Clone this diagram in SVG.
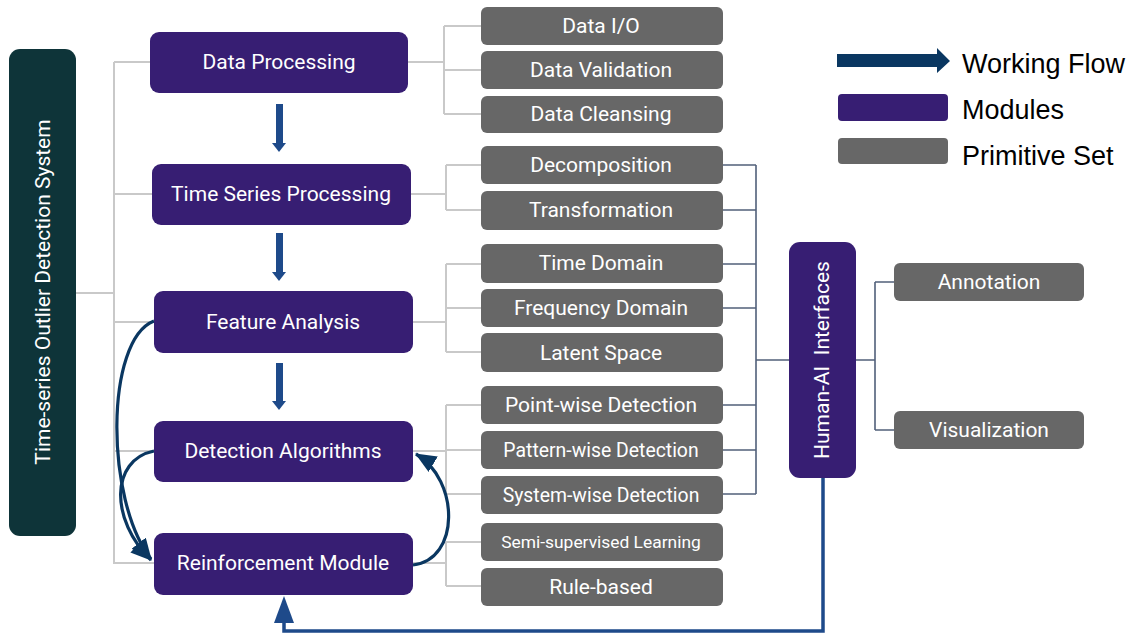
<svg xmlns="http://www.w3.org/2000/svg" width="1135" height="633" viewBox="0 0 1135 633">
  <style>
    .module { fill: #371e73; }
    .prim { fill: #676767; }
    .root { fill: #0e3439; }
    .t { font-family: Roboto, "Liberation Sans", sans-serif; font-weight: 400; fill: #ffffff; text-anchor: middle; dominant-baseline: central; }
    .tm { font-size: 21px; }
    .tp { font-size: 21px; }
    .legend { font-family: "Liberation Sans", Arial, sans-serif; font-size: 27px; fill: #000000; }
    .tree { fill: none; stroke: #c9c9c9; stroke-width: 2; }
    .link { fill: none; stroke: #51607a; stroke-width: 1.6; }
    .flow { fill: #1e4a8a; }
    .loop { fill: none; stroke: #0a3761; stroke-width: 3.2; marker-end: url(#head); }
  </style>
  <defs>
    <marker id="head" markerUnits="userSpaceOnUse" markerWidth="24" markerHeight="20" refX="20" refY="9" orient="auto">
      <path d="M0,0 L21,9 L0,18 Z" fill="#0a3761"/>
    </marker>
  </defs>

  <rect width="1135" height="633" fill="#ffffff"/>

  <!-- connectors -->
  <g id="connectors">
    <!-- system to modules -->
    <path class="tree" d="M76,293 H114 M114,62 V564 M114,62 H150 M114,194 H152 M114,322 H154 M114,451 H154 M114,563 H154"/>
    <!-- modules to primitive sets -->
    <path class="tree" d="M408,62 H444 M444,26 V114 M444,26 H481 M444,70 H481 M444,114 H481"/>
    <path class="tree" d="M411,194 H446 M446,165 V210 M446,165 H481 M446,210 H481"/>
    <path class="tree" d="M413,322 H446 M446,264 V352 M446,264 H481 M446,308 H481 M446,352 H481"/>
    <path class="tree" d="M413,451 H446 M446,405 V494 M446,405 H481 M446,450 H481 M446,494 H481"/>
    <path class="tree" d="M413,563 H446 M446,542 V586 M446,542 H481 M446,586 H481"/>
    <!-- primitive sets to Human-AI interfaces -->
    <path class="link" d="M723,165 H756 M723,210 H756 M723,264 H756 M723,308 H756 M723,405 H756 M723,450 H756 M723,494 H756 M756,165 V494 M756,360 H789"/>
    <path class="link" d="M856,360 H875 M875,282 V430 M875,282 H894 M875,430 H894"/>

    <!-- working flow arrows -->
    <rect class="flow" x="276" y="104" width="7" height="40"/>
    <polygon class="flow" points="272,143 286,143 279,152"/>
    <rect class="flow" x="276" y="233" width="7" height="40"/>
    <polygon class="flow" points="272,272 286,272 279,281"/>
    <rect class="flow" x="276" y="363" width="7" height="39"/>
    <polygon class="flow" points="272,401 286,401 279,410"/>

    <!-- feedback loops -->
    <path class="loop" d="M154,321 C105,340 105,500 151,559"/>
    <path class="loop" d="M154,451 C110,460 110,520 151,560"/>
    <path class="loop" d="M413,565 C460,560 460,480 416,454"/>

    <!-- human feedback to reinforcement -->
    <path d="M823,478 V631 H284 V620" fill="none" stroke="#1e4a8a" stroke-width="3.5"/>
    <polygon points="274,623 294,623 284,596" fill="#1e4a8a"/>
  </g>

  <!-- root -->
  <g id="system">
    <rect class="root" x="9" y="49" width="67" height="487" rx="11"/>
    <text class="t" font-size="21" transform="translate(43,292) rotate(-90)">Time-series Outlier Detection System</text>
  </g>

  <!-- modules -->
  <g id="data-processing">
    <rect class="module" x="150" y="32" width="258" height="61" rx="9"/>
    <text class="t tm" x="279" y="62">Data Processing</text>
  </g>
  <g id="time-series-processing">
    <rect class="module" x="152" y="164" width="259" height="61" rx="9"/>
    <text class="t tm" x="281" y="194">Time Series Processing</text>
  </g>
  <g id="feature-analysis">
    <rect class="module" x="154" y="291" width="259" height="62" rx="9"/>
    <text class="t tm" x="283" y="322">Feature Analysis</text>
  </g>
  <g id="detection-algorithms">
    <rect class="module" x="154" y="421" width="259" height="61" rx="9"/>
    <text class="t tm" x="283" y="451">Detection Algorithms</text>
  </g>
  <g id="reinforcement-module">
    <rect class="module" x="154" y="533" width="259" height="62" rx="9"/>
    <text class="t tm" x="283" y="563">Reinforcement Module</text>
  </g>
  <g id="human-ai-interfaces">
    <rect class="module" x="789" y="242" width="67" height="236" rx="11"/>
    <text class="t" font-size="21" transform="translate(822,360) rotate(-90)" xml:space="preserve">Human-AI  Interfaces</text>
  </g>

  <!-- primitive sets -->
  <g id="data-io">
    <rect class="prim" x="481" y="7" width="242" height="38" rx="6"/>
    <text class="t tp" x="601" y="26">Data I/O</text>
  </g>
  <g id="data-validation">
    <rect class="prim" x="481" y="51" width="242" height="38" rx="6"/>
    <text class="t tp" x="601" y="70">Data Validation</text>
  </g>
  <g id="data-cleansing">
    <rect class="prim" x="481" y="96" width="242" height="37" rx="6"/>
    <text class="t tp" x="601" y="114">Data Cleansing</text>
  </g>
  <g id="decomposition">
    <rect class="prim" x="481" y="146" width="242" height="38" rx="6"/>
    <text class="t tp" x="601" y="165">Decomposition</text>
  </g>
  <g id="transformation">
    <rect class="prim" x="481" y="191" width="242" height="39" rx="6"/>
    <text class="t tp" x="601" y="210">Transformation</text>
  </g>
  <g id="time-domain">
    <rect class="prim" x="481" y="244" width="242" height="39" rx="6"/>
    <text class="t tp" x="601" y="263">Time Domain</text>
  </g>
  <g id="frequency-domain">
    <rect class="prim" x="481" y="289" width="242" height="38" rx="6"/>
    <text class="t tp" x="601" y="308">Frequency Domain</text>
  </g>
  <g id="latent-space">
    <rect class="prim" x="481" y="333" width="242" height="39" rx="6"/>
    <text class="t tp" x="601" y="353">Latent Space</text>
  </g>
  <g id="point-wise-detection">
    <rect class="prim" x="481" y="386" width="242" height="38" rx="6"/>
    <text class="t tp" x="601" y="405">Point-wise Detection</text>
  </g>
  <g id="pattern-wise-detection">
    <rect class="prim" x="481" y="431" width="242" height="38" rx="6"/>
    <text class="t" font-size="19.4" x="601" y="450">Pattern-wise Detection</text>
  </g>
  <g id="system-wise-detection">
    <rect class="prim" x="481" y="476" width="242" height="38" rx="6"/>
    <text class="t" font-size="19.4" x="601" y="495">System-wise Detection</text>
  </g>
  <g id="semi-supervised-learning">
    <rect class="prim" x="481" y="523" width="242" height="38" rx="6"/>
    <text class="t" font-size="17.4" x="601" y="542">Semi-supervised Learning</text>
  </g>
  <g id="rule-based">
    <rect class="prim" x="481" y="568" width="242" height="38" rx="6"/>
    <text class="t tp" x="601" y="587">Rule-based</text>
  </g>
  <g id="annotation">
    <rect class="prim" x="894" y="263" width="190" height="38" rx="6"/>
    <text class="t tp" x="989" y="282">Annotation</text>
  </g>
  <g id="visualization">
    <rect class="prim" x="894" y="411" width="190" height="38" rx="6"/>
    <text class="t tp" x="989" y="430">Visualization</text>
  </g>

  <!-- legend -->
  <g id="legend">
    <polygon points="837,54 937,54 937,48 950,61 937,73 937,67 837,67" fill="#0a3761"/>
    <text class="legend" x="962" y="73">Working Flow</text>
    <rect class="module" x="838" y="94" width="110" height="27" rx="4"/>
    <text class="legend" x="962" y="119">Modules</text>
    <rect class="prim" x="838" y="138" width="110" height="26" rx="4"/>
    <text class="legend" x="962" y="165">Primitive Set</text>
  </g>
</svg>
